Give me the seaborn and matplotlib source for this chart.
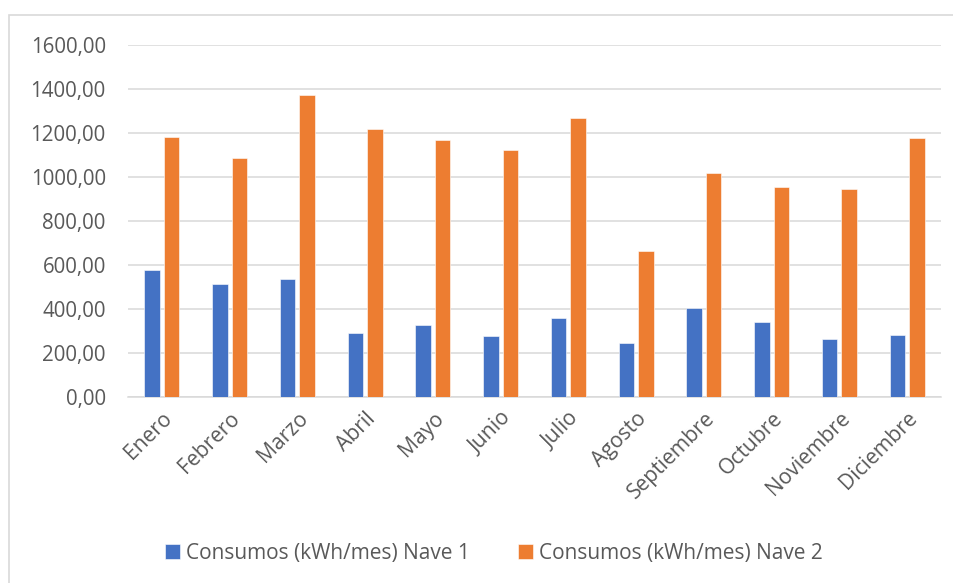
import matplotlib
matplotlib.use("Agg")
import matplotlib.pyplot as plt
from matplotlib.ticker import FuncFormatter, MultipleLocator
from matplotlib.patches import Rectangle
import seaborn as sns
import pandas as pd

meses = ["Enero", "Febrero", "Marzo", "Abril", "Mayo", "Junio", "Julio",
         "Agosto", "Septiembre", "Octubre", "Noviembre", "Diciembre"]
nave1 = [576, 515, 538, 291, 326, 276, 358, 247, 405, 339, 262, 280]
nave2 = [1180, 1088, 1371, 1220, 1168, 1121, 1268, 664, 1017, 956, 945, 1177]
serie1 = "Consumos (kWh/mes) Nave 1"
serie2 = "Consumos (kWh/mes) Nave 2"

df = pd.DataFrame({
    "Mes": meses * 2,
    "Serie": [serie1] * len(meses) + [serie2] * len(meses),
    "Valor": nave1 + nave2,
})

sns.set_theme(style="white")
plt.rcParams["font.family"] = ["Open Sans", "DejaVu Sans"]
txt = "#595959"
grid = "#d9d9d9"

fig = plt.figure(figsize=(9.54, 5.83), dpi=100)
ax = fig.add_axes([128 / 954, 1 - 397 / 583, (941 - 128) / 954, (397 - 45) / 583])

sns.barplot(data=df, x="Mes", y="Valor", hue="Serie", order=meses,
            hue_order=[serie1, serie2], palette=["#4472C4", "#ED7D31"],
            saturation=1, width=0.57, gap=0.2, ax=ax, edgecolor="white",
            linewidth=0.4, zorder=3)

ax.set_ylim(0, 1600)
ax.set_xlim(-0.5, len(meses) - 0.5)
ax.yaxis.set_major_locator(MultipleLocator(200))
ax.yaxis.set_major_formatter(FuncFormatter(lambda v, p: f"{v:.2f}".replace(".", ",")))
ax.grid(axis="y", color=grid, linewidth=1.1, zorder=0)
ax.set_axisbelow(True)
for s in ["top", "right", "left"]:
    ax.spines[s].set_visible(False)
ax.spines["bottom"].set_color(grid)
ax.spines["bottom"].set_linewidth(1.1)
ax.set_xlabel("")
ax.set_ylabel("")
ax.tick_params(axis="y", length=0, pad=16, labelsize=14.8, labelcolor=txt)
ax.tick_params(axis="x", length=0, pad=8, labelsize=15.2, labelcolor=txt)
for lab in ax.get_xticklabels():
    lab.set_rotation(45)
    lab.set_ha("right")
    lab.set_rotation_mode("anchor")

handles, labels = ax.get_legend_handles_labels()
ax.legend_.remove()
fig.legend(handles, labels, ncol=2, loc="center",
           bbox_to_anchor=(494 / 954, 1 - 553 / 583), frameon=False,
           fontsize=15, labelcolor=txt, handlelength=0.7, handleheight=0.7,
           handletextpad=0.3, columnspacing=2.3)

fig.patches.append(Rectangle((9 / 954, -0.05), 1.0, 1 - 15 / 583 + 0.05,
                             transform=fig.transFigure, fill=False,
                             edgecolor=grid, linewidth=1.2))

fig.savefig("out.png", dpi=100)
